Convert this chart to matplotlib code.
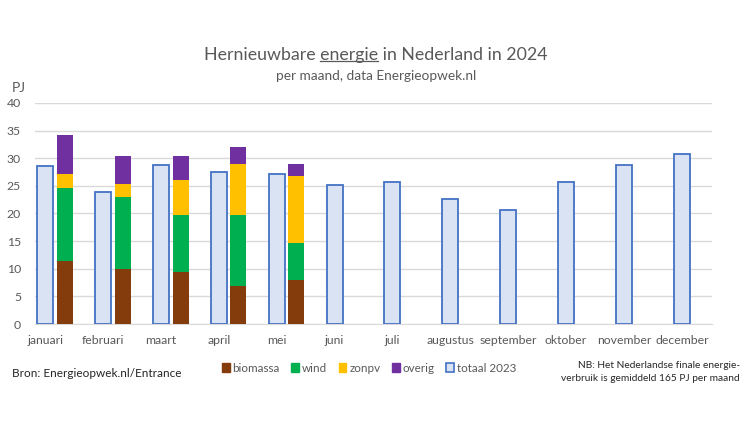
import matplotlib
matplotlib.use("Agg")
import matplotlib.pyplot as plt
import numpy as np
from matplotlib.patches import Patch
from matplotlib.lines import Line2D

plt.rcParams['font.family'] = ['Lato', 'DejaVu Sans']

months = ["januari", "februari", "maart", "april", "mei", "juni", "juli",
          "augustus", "september", "oktober", "november", "december"]
totaal_2023 = [28.6, 23.9, 28.8, 27.6, 27.1, 25.1, 25.7, 22.6, 20.6, 25.7, 28.8, 30.8]
biomassa = [11.4, 9.9, 9.4, 6.8, 7.9]
wind = [13.3, 13.0, 10.4, 13.0, 6.8]
zonpv = [2.4, 2.5, 6.3, 9.1, 12.0]
overig = [7.1, 5.0, 4.3, 3.2, 2.2]

c_bio = "#843C0C"
c_wind = "#00B050"
c_zon = "#FFC000"
c_ov = "#7030A0"
c_tot_fill = "#DAE3F3"
c_tot_edge = "#4472C4"
grey = "#595959"

W, H = 752, 423
fig = plt.figure(figsize=(W/100, H/100), dpi=100)
ax = fig.add_axes([35/W, 1-324/H, (712-35)/W, (324-103)/H])

step = 57.9
x_tot = 45 + step*np.arange(len(months))
x_stk = x_tot[:len(biomassa)] + 19.7
bw = 16

ax.bar(x_tot, totaal_2023, width=bw, color=c_tot_fill, edgecolor=c_tot_edge, linewidth=1.3, zorder=3)
b = np.array(biomassa); w = np.array(wind); z = np.array(zonpv); o = np.array(overig)
ax.bar(x_stk, b, width=bw, color=c_bio, zorder=3)
ax.bar(x_stk, w, width=bw, bottom=b, color=c_wind, zorder=3)
ax.bar(x_stk, z, width=bw, bottom=b+w, color=c_zon, zorder=3)
ax.bar(x_stk, o, width=bw, bottom=b+w+z, color=c_ov, zorder=3)

ax.set_xlim(35, 712)
ax.set_ylim(0, 40)
ax.set_yticks(np.arange(0, 41, 5))
ax.set_xticks(x_tot)
ax.set_xticklabels(months)
ax.grid(axis='y', color='#D9D9D9', linewidth=1, zorder=0)
for s in ['top', 'right', 'left']:
    ax.spines[s].set_visible(False)
ax.spines['bottom'].set_color('#D9D9D9')
ax.tick_params(axis='both', length=0, colors=grey, labelsize=8.8)
ax.tick_params(axis='y', pad=10)
ax.tick_params(axis='x', pad=8)

fig.text(12/W, 1-88/H, "PJ", fontsize=10, color=grey, va='center', ha='left')

# title with underlined word
fs_t = 12.8
title_parts = ["Hernieuwbare ", "energie", " in Nederland in 2024"]
full = "".join(title_parts)
ty = 1-55/H
ttl = fig.text(0.5, ty, full, fontsize=fs_t, color=grey, ha='center', va='center')
fig.canvas.draw()
r = fig.canvas.get_renderer()
bb = ttl.get_window_extent(r)
tmp1 = fig.text(0, 0, title_parts[0], fontsize=fs_t)
tmp2 = fig.text(0, 0, title_parts[0] + title_parts[1], fontsize=fs_t)
w1 = tmp1.get_window_extent(r).width
w2 = tmp2.get_window_extent(r).width
tmp1.remove(); tmp2.remove()
ux0 = (bb.x0 + w1) / W
ux1 = (bb.x0 + w2) / W
uy = (bb.y0 + 2) / H
fig.add_artist(Line2D([ux0, ux1], [uy, uy], color=grey, linewidth=0.9, transform=fig.transFigure))

fig.text(0.5, 1-76/H, "per maand, data Energieopwek.nl", fontsize=9.8, color=grey, ha='center', va='center')

handles = [Patch(facecolor=c_bio, edgecolor=c_bio), Patch(facecolor=c_wind, edgecolor=c_wind),
           Patch(facecolor=c_zon, edgecolor=c_zon), Patch(facecolor=c_ov, edgecolor=c_ov),
           Patch(facecolor=c_tot_fill, edgecolor=c_tot_edge, linewidth=1.2)]
labels = ["biomassa", "wind", "zonpv", "overig", "totaal 2023"]
leg = fig.legend(handles, labels, loc='center', bbox_to_anchor=(369/W, 1-368/H), ncol=5,
                 frameon=False, fontsize=8.4, handlelength=0.65, handleheight=0.7,
                 handletextpad=0.25, columnspacing=1.0, labelcolor=grey)

fig.text(12/W, 1-373/H, "Bron: Energieopwek.nl/Entrance", fontsize=8.5, color='#262626', ha='left', va='center')
fig.text(740/W, 1-372/H, "NB: Het Nederlandse finale energie-\nverbruik is gemiddeld 165 PJ per maand",
         fontsize=7.3, color='#262626', ha='right', va='center', linespacing=1.45)

fig.savefig("out.png", dpi=100)
